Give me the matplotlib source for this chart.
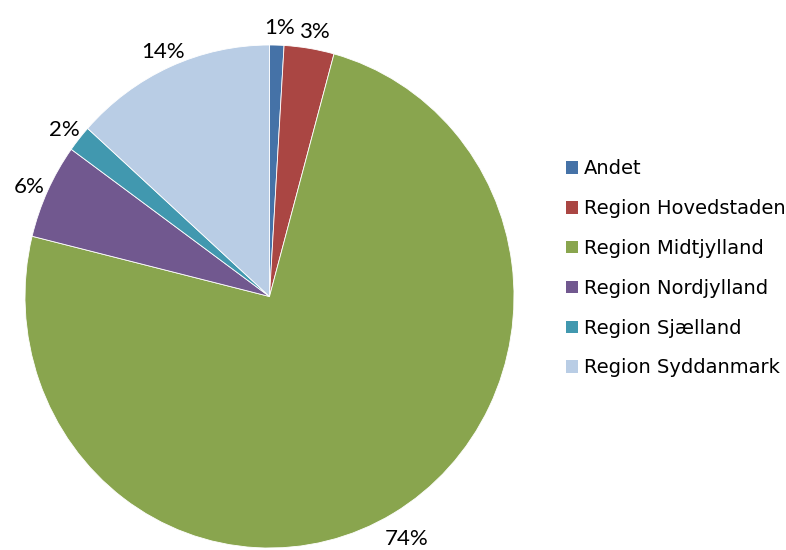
import matplotlib
matplotlib.use("Agg")
import matplotlib.pyplot as plt
from matplotlib.transforms import offset_copy

# data (percent)
regions = ["Andet", "Region Hovedstaden", "Region Midtjylland",
           "Region Nordjylland", "Region Sjælland", "Region Syddanmark"]
shares = [0.95, 3.3, 74.6, 6.1, 1.7, 13.35]
pct_labels = ["1%", "3%", "74%", "6%", "2%", "14%"]

colors = ["#4572A7", "#AA4643", "#89A54E", "#71588F", "#4198AF", "#B9CDE5"]

fig = plt.figure(figsize=(7.86, 5.5), dpi=100, facecolor="white")
# pie box (slightly stretched vertically like the source)
ax = fig.add_axes([25 / 786, 2 / 550, 489 / 786, 503 / 550])

wedges, texts = ax.pie(shares, labels=pct_labels, colors=colors,
                       startangle=90, counterclock=False,
                       labeldistance=1.09,
                       wedgeprops={"edgecolor": "white", "linewidth": 0.6},
                       textprops={"fontsize": 16, "family": "Lato",
                                  "color": "black"})
for t in texts:
    t.set_ha("center")
    t.set_va("center")
    # excel puts the labels a little lower
    t.set_transform(offset_copy(t.get_transform(), fig=fig, x=2, y=-6, units="dots"))

ax.set_aspect("auto")
ax.set_xlim(-1, 1)
ax.set_ylim(-1, 1)
ax.axis("off")

leg = fig.legend(wedges, regions, loc="center left",
                 bbox_to_anchor=(566 / 786, 0.512),
                 frameon=False, borderpad=0, borderaxespad=0,
                 handlelength=0.6, handleheight=0.6, handletextpad=0.3,
                 labelspacing=1.07,
                 prop={"family": "DejaVu Sans", "size": 14})
for t in leg.get_texts():
    t.set_color("black")
for h in leg.legend_handles:
    h.set_linewidth(0)

fig.savefig("out.png", dpi=100)
